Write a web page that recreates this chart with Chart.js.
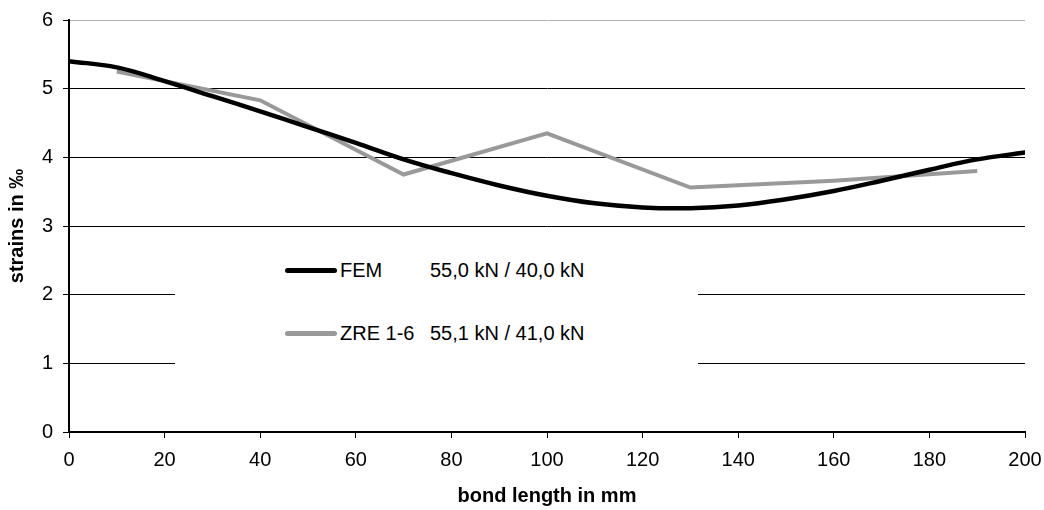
<!DOCTYPE html>
<html>
<head>
<meta charset="utf-8">
<script src="https://cdn.jsdelivr.net/npm/chart.js@4"></script>
<style>
  html, body { margin:0; padding:0; background:#fff; }
  #wrap { position:relative; width:1044px; height:510px; }
  #legend { position:absolute; left:175px; top:245px; width:523px; height:130px; background:#fff;
            font-family:"Liberation Sans", Arial, sans-serif; font-size:20px; line-height:24px; color:#000; }
  .sw { position:absolute; width:52px; height:5px; border-radius:3px; }
  .lbl { position:absolute; white-space:nowrap; }
</style>
</head>
<body>
<div id="wrap">
  <canvas id="c" width="1044" height="510"></canvas>
  <div id="legend">
    <div class="sw" style="left:110px; top:23px; background:#000;"></div>
    <div class="lbl" style="left:165px; top:13px;">FEM</div>
    <div class="lbl" style="left:255px; top:13px;">55,0 kN / 40,0 kN</div>
    <div class="sw" style="left:110px; top:86px; background:#999;"></div>
    <div class="lbl" style="left:165px; top:76px;">ZRE 1-6</div>
    <div class="lbl" style="left:255px; top:76px;">55,1 kN / 41,0 kN</div>
  </div>
</div>
<script>
const femX = [0,10,20,30,40,50,60,70,80,90,100,110,120,130,140,150,160,170,180,190,200];
const femY = [5.40,5.31,5.11,4.89,4.67,4.44,4.21,3.97,3.77,3.59,3.44,3.33,3.27,3.26,3.30,3.39,3.51,3.66,3.82,3.97,4.07];
const zreX = [10,40,70,100,130,160,190];
const zreY = [5.25,4.83,3.75,4.35,3.56,3.66,3.80];
const xTicks = [0,20,40,60,80,100,120,140,160,180,200];
const yTicks = [0,1,2,3,4,5,6];

const fam = '"Liberation Sans", Arial, sans-serif';
const font = { family: fam, size: 20 };
new Chart(document.getElementById('c'), {
  type: 'line',
  data: {
    datasets: [
      { label: 'FEM', data: femX.map((x,i)=>({x, y: femY[i]})), borderColor:'#000', borderWidth:4.5,
        pointRadius:0, tension:0.4, borderCapStyle:'round' },
      { label: 'ZRE 1-6', data: zreX.map((x,i)=>({x, y: zreY[i]})), borderColor:'#999', borderWidth:4,
        pointRadius:0, tension:0, borderCapStyle:'butt' }
    ]
  },
  options: {
    responsive:false, animation:false,
    layout: { padding: { top: 20, right: 19, left: 0, bottom: 0 } },
    plugins: { legend: { display:false }, tooltip: { enabled:false } },
    scales: {
      x: {
        type:'linear', min:0, max:200,
        afterBuildTicks: s => { s.ticks = xTicks.map(v=>({value:v})); },
        afterFit: s => { s.height = 78; s.paddingRight = 0; s.paddingLeft = 0; },
        ticks: { color:'#000', font, padding:10, maxRotation:0 },
        grid: { drawOnChartArea:false, drawTicks:true, tickLength:6, color:'#000', tickColor:'#000', lineWidth:1 },
        border: { display:true, color:'#000', width:2 },
        title: { display:true, text:'bond length in mm', color:'#000',
                 font:{ family: fam, size:20, weight:'bold' }, padding:{top:0, bottom:2} }
      },
      y: {
        min:0, max:6,
        afterBuildTicks: s => { s.ticks = yTicks.map(v=>({value:v})); },
        afterFit: s => { s.width = 69; s.paddingTop = 0; s.paddingBottom = 0; },
        ticks: { color:'#000', font, padding:10 },
        grid: { drawTicks:true, tickLength:6, lineWidth:1, tickColor:'#000', tickWidth:1,
                color: c => (c.tick && c.tick.value === 6) ? '#b0b0b0' : '#000' },
        border: { display:true, color:'#000', width:2 },
        title: { display:true, text:'strains in ‰', color:'#000',
                 font:{ family: fam, size:20, weight:'bold' }, padding:{top:5, bottom:0} }
      }
    }
  }
});
</script>
</body>
</html>
